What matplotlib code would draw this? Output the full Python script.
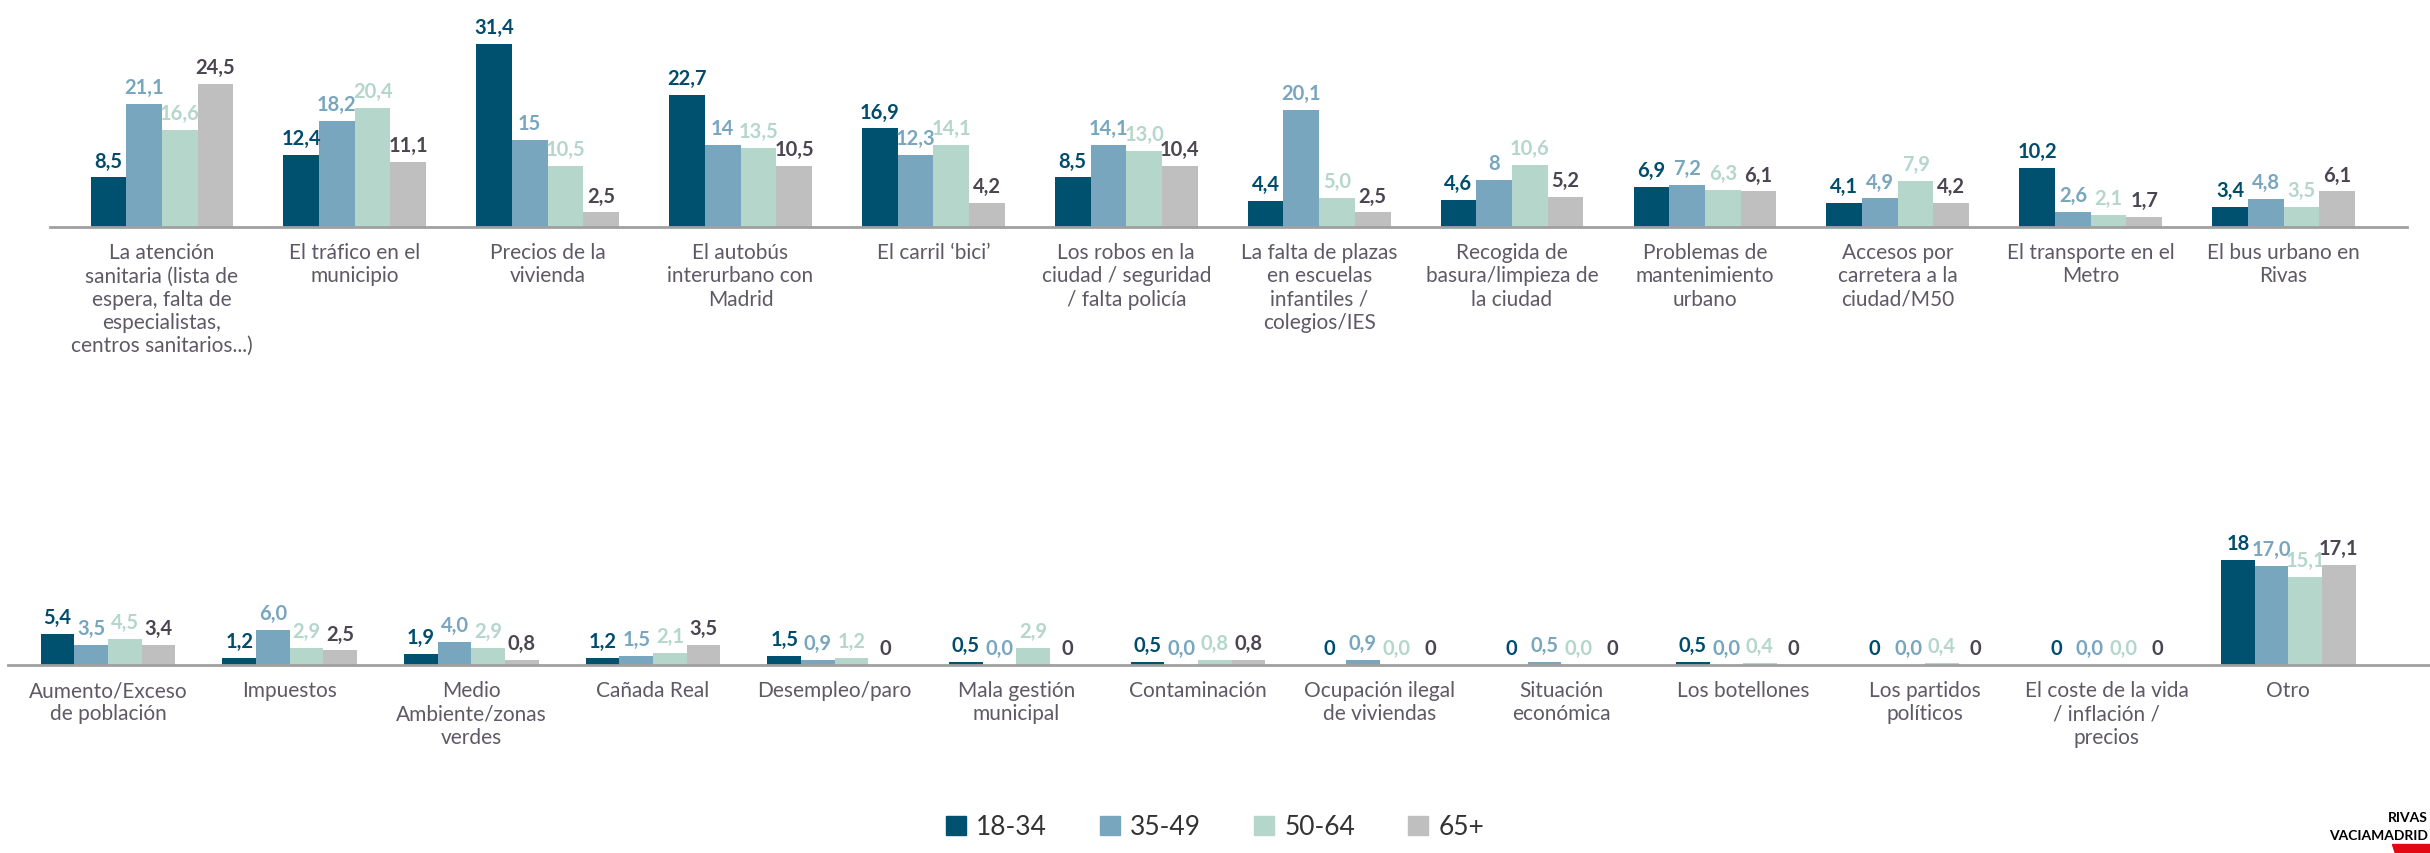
import numpy as np
import matplotlib.pyplot as plt
from matplotlib.patches import Polygon

# age groups
groups = ['18-34', '35-49', '50-64', '65+']
bar_colors = ['#00506F', '#78A6BF', '#B4D6CB', '#BFBFBF']
label_colors = ['#004C6D', '#78A6BF', '#B4D6CB', '#4A4550']

# top row
top_cats = [
    'La atención\nsanitaria (lista de\nespera, falta de\nespecialistas,\ncentros sanitarios...)',
    'El tráfico en el\nmunicipio',
    'Precios de la\nvivienda',
    'El autobús\ninterurbano con\nMadrid',
    'El carril ‘bici’',
    'Los robos en la\nciudad / seguridad\n/ falta policía',
    'La falta de plazas\nen escuelas\ninfantiles /\ncolegios/IES',
    'Recogida de\nbasura/limpieza de\nla ciudad',
    'Problemas de\nmantenimiento\nurbano',
    'Accesos por\ncarretera a la\nciudad/M50',
    'El transporte en el\nMetro',
    'El bus urbano en\nRivas',
]
top_1834 = [8.5, 12.4, 31.4, 22.7, 16.9, 8.5, 4.4, 4.6, 6.9, 4.1, 10.2, 3.4]
top_3549 = [21.1, 18.2, 15, 14, 12.3, 14.1, 20.1, 8, 7.2, 4.9, 2.6, 4.8]
top_5064 = [16.6, 20.4, 10.5, 13.5, 14.1, 13.0, 5.0, 10.6, 6.3, 7.9, 2.1, 3.5]
top_65 = [24.5, 11.1, 2.5, 10.5, 4.2, 10.4, 2.5, 5.2, 6.1, 4.2, 1.7, 6.1]
top_lbl_1834 = ['8,5', '12,4', '31,4', '22,7', '16,9', '8,5', '4,4', '4,6', '6,9', '4,1', '10,2', '3,4']
top_lbl_3549 = ['21,1', '18,2', '15', '14', '12,3', '14,1', '20,1', '8', '7,2', '4,9', '2,6', '4,8']
top_lbl_5064 = ['16,6', '20,4', '10,5', '13,5', '14,1', '13,0', '5,0', '10,6', '6,3', '7,9', '2,1', '3,5']
top_lbl_65 = ['24,5', '11,1', '2,5', '10,5', '4,2', '10,4', '2,5', '5,2', '6,1', '4,2', '1,7', '6,1']

# bottom row
bot_cats = [
    'Aumento/Exceso\nde población',
    'Impuestos',
    'Medio\nAmbiente/zonas\nverdes',
    'Cañada Real',
    'Desempleo/paro',
    'Mala gestión\nmunicipal',
    'Contaminación',
    'Ocupación ilegal\nde viviendas',
    'Situación\neconómica',
    'Los botellones',
    'Los partidos\npolíticos',
    'El coste de la vida\n/ inflación /\nprecios',
    'Otro',
]
bot_1834 = [5.4, 1.2, 1.9, 1.2, 1.5, 0.5, 0.5, 0, 0, 0.5, 0, 0, 18]
bot_3549 = [3.5, 6.0, 4.0, 1.5, 0.9, 0.0, 0.0, 0.9, 0.5, 0.0, 0.0, 0.0, 17.0]
bot_5064 = [4.5, 2.9, 2.9, 2.1, 1.2, 2.9, 0.8, 0.0, 0.0, 0.4, 0.4, 0.0, 15.1]
bot_65 = [3.4, 2.5, 0.8, 3.5, 0, 0, 0.8, 0, 0, 0, 0, 0, 17.1]
bot_lbl_1834 = ['5,4', '1,2', '1,9', '1,2', '1,5', '0,5', '0,5', '0', '0', '0,5', '0', '0', '18']
bot_lbl_3549 = ['3,5', '6,0', '4,0', '1,5', '0,9', '0,0', '0,0', '0,9', '0,5', '0,0', '0,0', '0,0', '17,0']
bot_lbl_5064 = ['4,5', '2,9', '2,9', '2,1', '1,2', '2,9', '0,8', '0,0', '0,0', '0,4', '0,4', '0,0', '15,1']
bot_lbl_65 = ['3,4', '2,5', '0,8', '3,5', '0', '0', '0,8', '0', '0', '0', '0', '0', '17,1']

FONT = 'Lato'
plt.rcParams['font.family'] = [FONT, 'DejaVu Sans']

fig = plt.figure(figsize=(24.3, 8.54), dpi=100)
px_per_unit = 5.83  # same vertical scale in both rows


def draw_row(ax, cats, series, labels, xlim):
    x = np.arange(len(cats))
    w = 0.185
    for i, (vals, lbls) in enumerate(zip(series, labels)):
        pos = x + (i - 1.5) * w
        ax.bar(pos, vals, width=w, color=bar_colors[i], linewidth=0)
        for xp, v, t in zip(pos, vals, lbls):
            ax.annotate(t, (xp, v), xytext=(0, 5), textcoords='offset points',
                        ha='center', va='bottom', fontsize=14.5, fontweight='bold',
                        color=label_colors[i])
    ax.set_xlim(*xlim)
    ax.set_xticks(x)
    ax.set_xticklabels(cats, fontsize=15, color='#5E5966', linespacing=1.2)
    ax.tick_params(axis='x', length=0, pad=11)
    ax.set_yticks([])
    for s in ['top', 'left', 'right']:
        ax.spines[s].set_visible(False)
    ax.spines['bottom'].set_color('#A0A0A0')
    ax.spines['bottom'].set_linewidth(2)
    ax.patch.set_alpha(0)


# top row
top_bottom_px = 228
ax1 = fig.add_axes([50 / 2430, 1 - top_bottom_px / 854, (2407 - 50) / 2430, top_bottom_px / 854])
draw_row(ax1, top_cats, [top_1834, top_3549, top_5064, top_65],
         [top_lbl_1834, top_lbl_3549, top_lbl_5064, top_lbl_65], (-0.58, 11.64))
ax1.set_ylim(0, top_bottom_px / px_per_unit)

# bottom row
bot_axis_px = 666
bot_h_px = 300
ax2 = fig.add_axes([8 / 2430, 1 - bot_axis_px / 854, (2430 - 8) / 2430, bot_h_px / 854])
draw_row(ax2, bot_cats, [bot_1834, bot_3549, bot_5064, bot_65],
         [bot_lbl_1834, bot_lbl_3549, bot_lbl_5064, bot_lbl_65], (-0.55, 12.78))
ax2.set_ylim(0, bot_h_px / px_per_unit)

# legend
handles = [plt.Rectangle((0, 0), 1, 1, color=c) for c in bar_colors]
fig.legend(handles, groups, loc='lower center', bbox_to_anchor=(0.5, -0.012), ncol=4,
           frameon=False, handlelength=0.75, handleheight=0.75,
           columnspacing=2.0, handletextpad=0.4, labelcolor='#333333',
           prop={'family': FONT, 'size': 19})

# logo in the bottom right corner
fig.text(2428 / 2430, 1 - 822 / 854, 'RIVAS', fontsize=10, fontweight='bold', color='black',
         ha='right', va='baseline')
fig.text(2428 / 2430, 1 - 840 / 854, 'VACIAMADRID', fontsize=10, fontweight='bold', color='black',
         ha='right', va='baseline')
fig.patches.append(Polygon([[2392 / 2430, 1 - 845 / 854], [2430 / 2430, 1 - 845 / 854],
                            [2430 / 2430, 0], [2395 / 2430, 0]],
                           closed=True, transform=fig.transFigure, color='#E30613'))

fig.savefig('out.png', dpi=100)
